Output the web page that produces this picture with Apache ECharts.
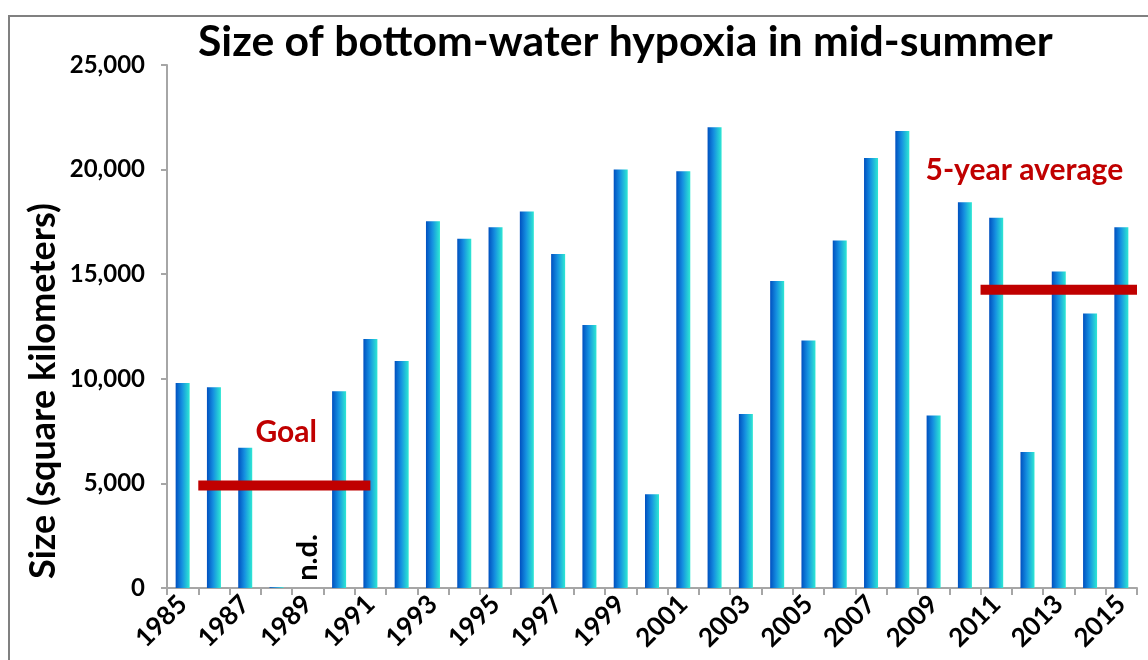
<!DOCTYPE html>
<html>
<head>
<meta charset="utf-8">
<script src="https://cdn.jsdelivr.net/npm/echarts@6/dist/echarts.min.js"></script>
<style>html,body{margin:0;padding:0;background:#fff}#chart{width:1148px;height:660px}</style>
</head>
<body>
<div id="chart"></div>
<script>
const years = ['1985','1986','1987','1988','1989','1990','1991','1992','1993','1994','1995','1996','1997','1998','1999','2000','2001','2002','2003','2004','2005','2006','2007','2008','2009','2010','2011','2012','2013','2014','2015'];
const hypoxiaSize = [9800,9600,6700,40,null,9400,11900,10850,17530,16700,17250,18000,15970,12570,20000,4480,19920,22030,8320,14670,11830,16610,20560,21850,8250,18440,17700,6500,15130,13120,17250];
const yTicks = [0,5000,10000,15000,20000,25000];
const goalValue = 4900;
const goalSpan = ['1986','1991'];
const avgValue = 14260;
const avgSpan = ['2011','2015'];
const noDataYear = '1989';

const FONT = 'Lato';
const chart = echarts.init(document.getElementById('chart'));
const barGrad = new echarts.graphic.LinearGradient(0,0,1,0,[
  {offset:0,color:'#0050c0'},{offset:0.45,color:'#1590e0'},{offset:1,color:'#2ee8d4'}]);
const n = years.length;
const gStart = years.indexOf(goalSpan[0]);
const gEnd = years.indexOf(goalSpan[1]) + 0.5;
const aStart = years.indexOf(avgSpan[0]);
const aEnd = years.indexOf(avgSpan[1]) + 1;
const noBorder = {textBorderWidth:0,textBorderColor:'transparent',textShadowBlur:0,opacity:1};

chart.setOption({
  animation:false,
  title:{text:'Size of bottom-water hypoxia in mid-summer',left:193,top:16,
    textStyle:{fontFamily:FONT,fontWeight:'bold',fontSize:42.7,color:'#000'}},
  grid:{left:167,right:11,top:65,bottom:72,containLabel:false},
  xAxis:[{type:'category',data:years,
    axisLine:{lineStyle:{color:'#a6a6a6',width:2}},
    axisTick:{show:true,interval:0,length:7,lineStyle:{color:'#a6a6a6',width:2}},
    axisLabel:{interval:1,rotate:45,margin:12,color:'#000',fontFamily:FONT,fontWeight:'bold',fontSize:26}},
   {type:'value',min:0,max:n,show:false}],
  yAxis:[{type:'value',min:0,max:25000,interval:5000,
    axisLine:{show:true,lineStyle:{color:'#a6a6a6',width:2}},
    axisTick:{show:true,length:6,lineStyle:{color:'#a6a6a6',width:2}},
    splitLine:{show:false},
    axisLabel:{margin:22,color:'#000',fontFamily:FONT,fontWeight:'bold',fontSize:24,
      formatter:v=>v.toLocaleString('en-US')}}],
  graphic:[{type:'rect',shape:{x:9,y:16,width:1400,height:900},
    style:{fill:'none',stroke:'#808080',lineWidth:2},silent:true,z:-10},
    {type:'text',x:43,y:391,rotation:Math.PI/2,
     style:{text:'Size (square kilometers)',fontFamily:FONT,fontWeight:'bold',fontSize:36,fill:'#000',
       align:'center',verticalAlign:'middle'}}],
  series:[
    {type:'bar',data:hypoxiaSize,barWidth:14,itemStyle:{color:barGrad}},
    {type:'line',xAxisIndex:1,data:[[gStart,goalValue],[gEnd,goalValue]],symbol:'none',
      lineStyle:{color:'#c00000',width:10,cap:'butt'},z:5},
    {type:'line',xAxisIndex:1,data:[[aStart,avgValue],[aEnd,avgValue]],symbol:'none',
      lineStyle:{color:'#c00000',width:10,cap:'butt'},z:5},
    {type:'scatter',xAxisIndex:1,symbolSize:0,z:6,itemStyle:{opacity:1,color:'#c00000'},
      data:[{value:[3.81,7450],label:{formatter:'Goal'}},
            {value:[27.4,19970],label:{formatter:'5-year average'}}],
      label:Object.assign({show:true,position:'inside',color:'#c00000',fontFamily:FONT,fontWeight:'bold',fontSize:30},noBorder)},
    {type:'scatter',symbolSize:0,z:6,itemStyle:{opacity:1,color:'#000'},data:[[noDataYear,1650]],
      label:Object.assign({show:true,position:'inside',offset:[-4,0],formatter:'n.d.',rotate:90,color:'#000',fontFamily:FONT,fontWeight:'bold',fontSize:29},noBorder)}
  ]
});
</script>
</body>
</html>
